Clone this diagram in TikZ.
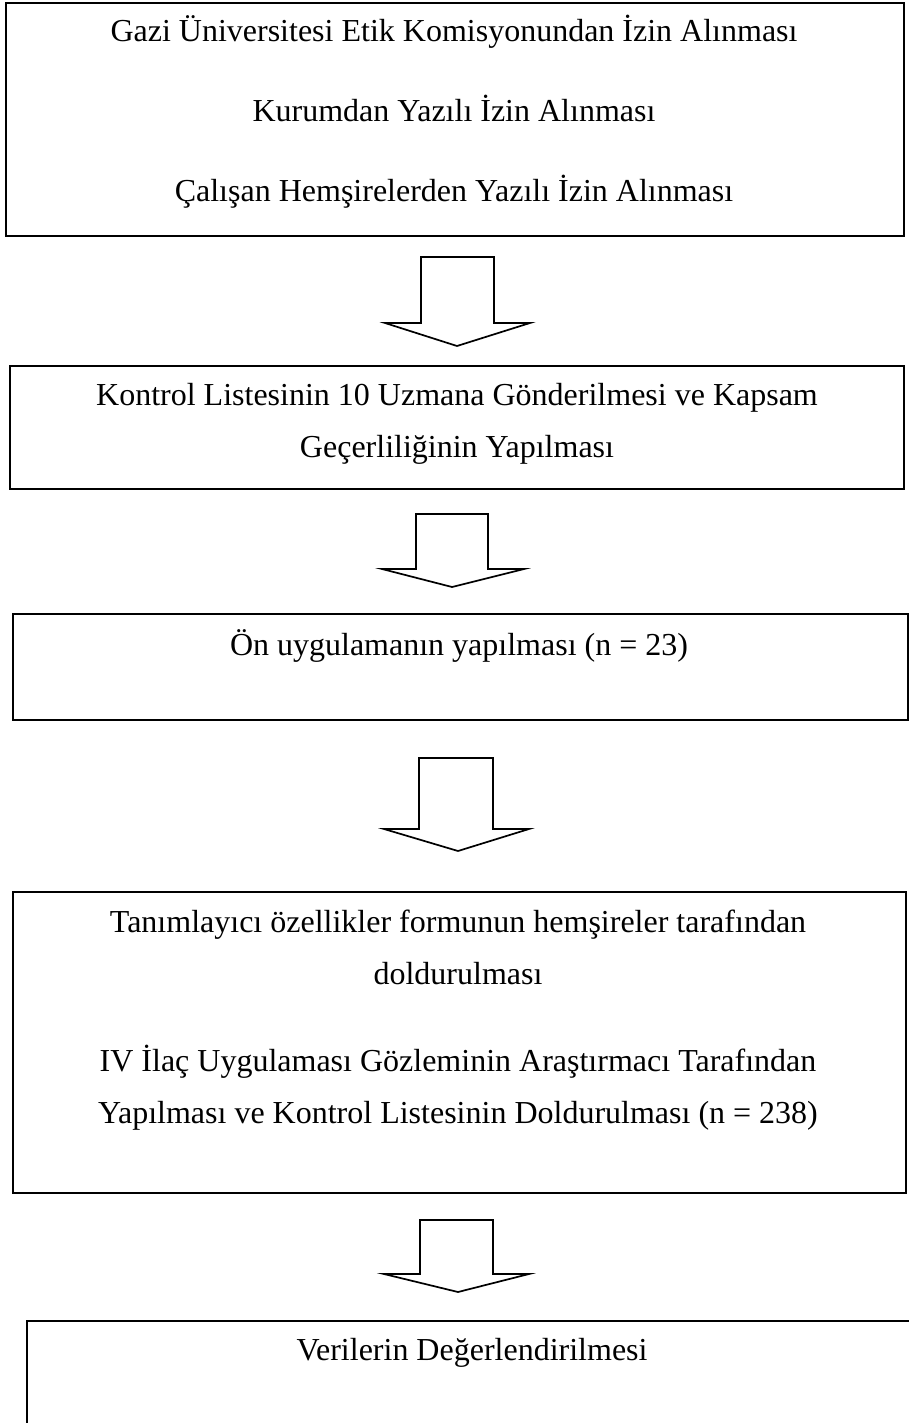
\documentclass[tikz,border=0pt]{standalone}
\usepackage{fontspec}
\setmainfont{Liberation Serif}
\begin{document}
\begin{tikzpicture}[x=1pt,y=-1pt,
  box/.style={draw=black, line width=2.2pt, rectangle, anchor=north west, inner sep=0pt},
  txt/.style={anchor=base, inner sep=0pt, font=\fontsize{32}{38}\selectfont},
  blockarrow/.style={draw=black, line width=1.7pt, fill=white, line join=miter}]
\clip (0,0) rectangle (909,1423);
\fill[white] (0,0) rectangle (909,1423);
% boxes
\node[box, minimum width=898pt, minimum height=233pt] (b1) at (5,2) {};
\node[box, minimum width=894pt, minimum height=123pt] (b2) at (9,365) {};
\node[box, minimum width=895pt, minimum height=106pt] (b3) at (12,613) {};
\node[box, minimum width=893pt, minimum height=301pt] (b4) at (12,891) {};
\node[box, minimum width=894pt, minimum height=140pt] (b5) at (26,1320) {};
% texts
\node[txt] (t1a) at (454,42) {Gazi Üniversitesi Etik Komisyonundan İzin Alınması};
\node[txt] (t1b) at (454,122) {Kurumdan Yazılı İzin Alınması};
\node[txt] (t1c) at (454,202) {Çalışan Hemşirelerden Yazılı İzin Alınması};
\node[txt] (t2a) at (457,405) {Kontrol Listesinin 10 Uzmana Gönderilmesi ve Kapsam};
\node[txt] (t2b) at (457,457) {Geçerliliğinin Yapılması};
\node[txt] (t3a) at (459,655) {Ön uygulamanın yapılması (n = 23)};
\node[txt] (t4a) at (458,932) {Tanımlayıcı özellikler formunun hemşireler tarafından};
\node[txt] (t4b) at (458,984) {doldurulması};
\node[txt] (t4c) at (458,1071) {IV İlaç Uygulaması Gözleminin Araştırmacı Tarafından};
\node[txt] (t4d) at (458,1123) {Yapılması ve Kontrol Listesinin Doldurulması (n = 238)};
\node[txt] (t5a) at (472,1360) {Verilerin Değerlendirilmesi};
% block arrows
\draw[blockarrow] (421,257) -- (494,257) -- (494,323) -- (530,323) -- (457,346) -- (385,323) -- (421,323) -- cycle;
\draw[blockarrow] (416,514) -- (488,514) -- (488,569) -- (524,569) -- (452,587) -- (382,569) -- (416,569) -- cycle;
\draw[blockarrow] (419,758) -- (493,758) -- (493,829) -- (529,829) -- (458,851) -- (384,829) -- (419,829) -- cycle;
\draw[blockarrow] (420,1220) -- (493,1220) -- (493,1274) -- (529,1274) -- (458,1292) -- (384,1274) -- (420,1274) -- cycle;
\end{tikzpicture}
\end{document}
